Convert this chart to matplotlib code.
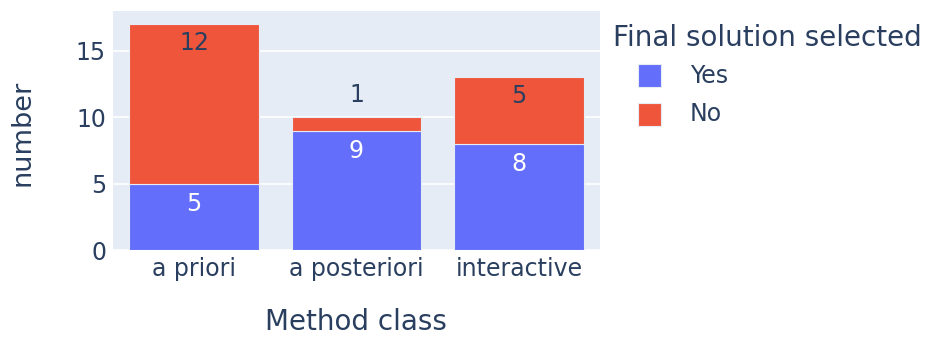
import matplotlib.pyplot as plt
from matplotlib.patches import Rectangle

categories = ["a priori", "a posteriori", "interactive"]
yes_counts = [5, 9, 8]
no_counts = [12, 1, 5]
series_names = ["Yes", "No"]
legend_title = "Final solution selected"

BLUE = "#636efa"
RED = "#EF553B"
BG = "#E5ECF6"
DARK = "#2a3f5f"

W, H = 931, 338
fig = plt.figure(figsize=(W / 100, H / 100), dpi=100)
ax = fig.add_axes([113 / W, (H - 250) / H, 487 / W, 239 / H])
ax.set_facecolor(BG)

x = range(len(categories))
ax.bar(x, yes_counts, width=0.8, color=BLUE, edgecolor=BG, linewidth=0.8, zorder=2)
ax.bar(x, no_counts, width=0.8, bottom=yes_counts, color=RED, edgecolor=BG, linewidth=0.8, zorder=2)

# value labels, plotly style: inside at top of segment, outside if too small
for i in x:
    ax.annotate(str(yes_counts[i]), (i, yes_counts[i]), xytext=(0, -6), textcoords="offset points",
                ha="center", va="top", fontsize=17, color="white", zorder=3)
    top = yes_counts[i] + no_counts[i]
    if no_counts[i] >= 2:
        ax.annotate(str(no_counts[i]), (i, top), xytext=(0, -5), textcoords="offset points",
                    ha="center", va="top", fontsize=17, color=DARK, zorder=3)
    else:
        ax.annotate(str(no_counts[i]), (i, top), xytext=(0, 7), textcoords="offset points",
                    ha="center", va="bottom", fontsize=17, color=DARK, zorder=3)

ax.set_xlim(-0.5, 2.5)
ax.set_ylim(0, 18)
ax.set_yticks([0, 5, 10, 15])
ax.set_xticks(list(x))
ax.set_xticklabels(categories)
ax.grid(axis="y", color="white", linewidth=1.2, zorder=1)
ax.set_axisbelow(True)
for s in ax.spines.values():
    s.set_visible(False)
ax.tick_params(length=0, labelsize=17, labelcolor=DARK, pad=5)

fig.text(23 / W, 1 - 133 / H, "number", rotation=90, ha="center", va="center", fontsize=19.5, color=DARK)
fig.text(356 / W, 1 - 322 / H, "Method class", ha="center", va="center", fontsize=20, color=DARK)

# legend
fig.text(613 / W, 1 - 38 / H, legend_title, ha="left", va="center", fontsize=20, color=DARK)
for k, (name, col) in enumerate(zip(series_names, [BLUE, RED])):
    yc = 76 + 38 * k
    fig.add_artist(Rectangle((638 / W, 1 - (yc + 11.5) / H), 23 / W, 23 / H,
                             transform=fig.transFigure, facecolor=col, edgecolor=BG, linewidth=0.8))
    fig.text(690 / W, 1 - yc / H, name, ha="left", va="center", fontsize=17, color=DARK)

fig.savefig("out.png", dpi=100, facecolor="white")
